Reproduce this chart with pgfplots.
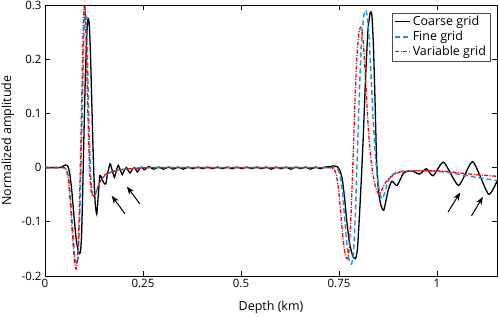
\documentclass[border=0pt]{standalone}
\usepackage{fontspec}
\setmainfont{Open Sans}
\usepackage{pgfplots}
\pgfplotsset{compat=1.18}
\usetikzlibrary{arrows.meta}
\definecolor{fineblue}{RGB}{20,150,215}
\newcommand{\lblfont}{\fontsize{12.5}{15}\selectfont}
\newcommand{\tckfont}{\fontsize{11.5}{14}\selectfont}
\begin{document}
\begin{tikzpicture}
\begin{axis}[
  scale only axis, width=452pt, height=271pt,
  xmin=0, xmax=1.153, ymin=-0.2, ymax=0.3,
  xtick={0,0.25,0.5,0.75,1}, xticklabels={0,0.25,0.5,0.75,1},
  ytick={-0.2,-0.1,0,0.1,0.2,0.3}, yticklabels={-0.2,-0.1,0,0.1,0.2,0.3},
  tick align=inside, tick pos=both, major tick length=5pt,
  tick style={black, line width=0.7pt},
  axis line style={line width=0.8pt},
  ticklabel style={font=\tckfont},
  xlabel={Depth (km)}, ylabel={Normalized amplitude},
  every axis x label/.style={at={(axis description cs:0.5,-0.1144)}, anchor=center, font=\lblfont},
  every axis y label/.style={at={(axis description cs:-0.0819,0.5)}, anchor=center, rotate=90, font=\lblfont},
  legend style={at={(axis description cs:0.985,0.972)}, anchor=north east, draw=black!70, line width=0.5pt,
    font=\lblfont, row sep=0pt, inner xsep=2pt, inner ysep=1.5pt},
  legend cell align=left,
  legend image code/.code={\draw[#1] (0pt,0pt) -- (15pt,0pt);},
]
% Coarse grid
\addplot[black, line width=1.3pt, smooth, tension=0.35] coordinates {
(0,0) (0.035,0) (0.045,0.002) (0.052,0.005) (0.058,0.003) (0.063,-0.01) (0.068,-0.04)
(0.074,-0.09) (0.080,-0.135) (0.086,-0.157) (0.090,-0.157) (0.093,-0.13) (0.096,-0.05)
(0.099,0.05) (0.103,0.17) (0.107,0.25) (0.110,0.275) (0.113,0.265) (0.116,0.21)
(0.119,0.13) (0.122,0.05) (0.125,-0.02) (0.128,-0.065) (0.132,-0.086) (0.136,-0.05)
(0.140,-0.015) (0.145,-0.02) (0.150,-0.028) (0.155,-0.03) (0.160,-0.01) (0.166,0.007)
(0.171,-0.004) (0.177,-0.018) (0.182,-0.005) (0.187,0.004) (0.192,-0.004) (0.197,-0.013)
(0.202,-0.005) (0.208,0.0) (0.212,-0.005) (0.217,-0.01) (0.222,-0.004) (0.228,0.0)
(0.232,-0.004) (0.236,-0.008) (0.241,-0.002) (0.247,0.001) (0.253,-0.004)
(0.265,0.002) (0.277,-0.003) (0.290,0.001) (0.302,-0.003) (0.315,0.001) (0.327,-0.003)
(0.340,0.001) (0.352,-0.003) (0.365,0.001) (0.377,-0.002) (0.390,0.001) (0.402,-0.002)
(0.415,0.001) (0.427,-0.002) (0.440,0.001) (0.452,-0.002) (0.465,0.001) (0.477,-0.002)
(0.490,0.001) (0.502,-0.002) (0.515,0.001) (0.527,-0.002) (0.540,0.001) (0.552,-0.002)
(0.565,0.001) (0.577,-0.003) (0.590,0.001) (0.602,-0.002) (0.615,0.001) (0.627,-0.003)
(0.640,0.001) (0.652,-0.002) (0.665,0.001) (0.677,-0.003) (0.690,0.001) (0.702,-0.002)
(0.715,0.001) (0.727,0.002) (0.735,0.003) (0.745,0.002) (0.752,-0.005) (0.758,-0.02)
(0.764,-0.055) (0.770,-0.1) (0.777,-0.14) (0.785,-0.163) (0.792,-0.168) (0.797,-0.15)
(0.802,-0.09) (0.807,-0.02) (0.812,0.06) (0.818,0.17) (0.824,0.255) (0.830,0.287)
(0.834,0.28) (0.838,0.22) (0.842,0.12) (0.846,0.01) (0.851,-0.045) (0.857,-0.07)
(0.864,-0.079) (0.870,-0.06) (0.876,-0.04) (0.885,-0.025) (0.898,-0.033) (0.915,-0.01)
(0.935,-0.006) (0.955,-0.012) (0.973,-0.002) (0.990,-0.015) (1.017,0.010) (1.055,-0.033)
(1.091,0.011) (1.131,-0.049) (1.153,-0.025)
};
\addlegendentry{Coarse grid}
% Fine grid
\addplot[fineblue, line width=1.4pt, dash pattern=on 5pt off 3pt, smooth, tension=0.35] coordinates {
(0,0) (0.045,0) (0.055,-0.004) (0.061,-0.022) (0.066,-0.065) (0.071,-0.12) (0.076,-0.163)
(0.081,-0.178) (0.085,-0.16) (0.089,-0.08) (0.093,0.04) (0.097,0.17) (0.100,0.26)
(0.103,0.29) (0.106,0.26) (0.109,0.18) (0.113,0.06) (0.117,-0.02) (0.121,-0.048)
(0.125,-0.053) (0.129,-0.049) (0.135,-0.036) (0.143,-0.024) (0.155,-0.013) (0.170,-0.008)
(0.190,-0.004) (0.220,-0.002) (0.260,0) (0.400,0) (0.600,0) (0.730,0) (0.745,-0.002)
(0.752,-0.012) (0.758,-0.04) (0.764,-0.09) (0.770,-0.14) (0.776,-0.172) (0.782,-0.178)
(0.787,-0.155) (0.792,-0.08) (0.797,0.03) (0.802,0.14) (0.807,0.23) (0.813,0.28)
(0.819,0.29) (0.825,0.26) (0.831,0.18) (0.837,0.09) (0.843,0.02) (0.849,-0.025)
(0.855,-0.05) (0.860,-0.058) (0.866,-0.048) (0.873,-0.03) (0.882,-0.016) (0.895,-0.009)
(0.920,-0.006) (0.970,-0.006) (1.000,-0.007) (1.030,-0.009) (1.060,-0.013) (1.100,-0.018)
(1.153,-0.024)
};
\addlegendentry{Fine grid}
% Variable grid
\addplot[red, line width=1.3pt, dash pattern=on 4pt off 1.5pt on 1pt off 1.5pt, smooth, tension=0.35] coordinates {
(0,0) (0.040,0) (0.050,0) (0.055,-0.005) (0.060,-0.025) (0.065,-0.07) (0.070,-0.125)
(0.075,-0.17) (0.079,-0.187) (0.083,-0.17) (0.087,-0.09) (0.091,0.03) (0.095,0.17)
(0.098,0.27) (0.100,0.305) (0.103,0.28) (0.106,0.20) (0.110,0.08) (0.114,-0.01)
(0.118,-0.045) (0.122,-0.053) (0.126,-0.052) (0.130,-0.045) (0.138,-0.03) (0.145,-0.02)
(0.155,-0.012) (0.170,-0.008) (0.190,-0.004) (0.220,-0.002) (0.260,0) (0.400,0)
(0.600,0) (0.720,0) (0.735,-0.002) (0.742,-0.01) (0.748,-0.035) (0.754,-0.08)
(0.760,-0.13) (0.766,-0.162) (0.771,-0.168) (0.776,-0.15) (0.781,-0.08) (0.786,0.02)
(0.791,0.13) (0.796,0.21) (0.801,0.25) (0.806,0.259) (0.812,0.23) (0.818,0.16)
(0.824,0.08) (0.830,0.025) (0.836,-0.01) (0.842,-0.033) (0.848,-0.045) (0.853,-0.049)
(0.860,-0.04) (0.868,-0.028) (0.880,-0.018) (0.906,-0.008) (0.950,-0.006) (1.000,-0.006)
(1.025,-0.007) (1.060,-0.010) (1.100,-0.013) (1.153,-0.016)
};
\addlegendentry{Variable grid}
% annotation arrows
\draw[-{Stealth[length=8pt,width=6pt]}, line width=1pt] (axis cs:0.204,-0.085) -- (axis cs:0.170,-0.052);
\draw[-{Stealth[length=8pt,width=6pt]}, line width=1pt] (axis cs:0.242,-0.067) -- (axis cs:0.209,-0.035);
\draw[-{Stealth[length=8pt,width=6pt]}, line width=1pt] (axis cs:1.028,-0.082) -- (axis cs:1.059,-0.046);
\draw[-{Stealth[length=8pt,width=6pt]}, line width=1pt] (axis cs:1.088,-0.089) -- (axis cs:1.117,-0.054);
\end{axis}
\pgfresetboundingbox
\path (-45pt,-41pt) rectangle (453pt,276pt);
\end{tikzpicture}
\end{document}
